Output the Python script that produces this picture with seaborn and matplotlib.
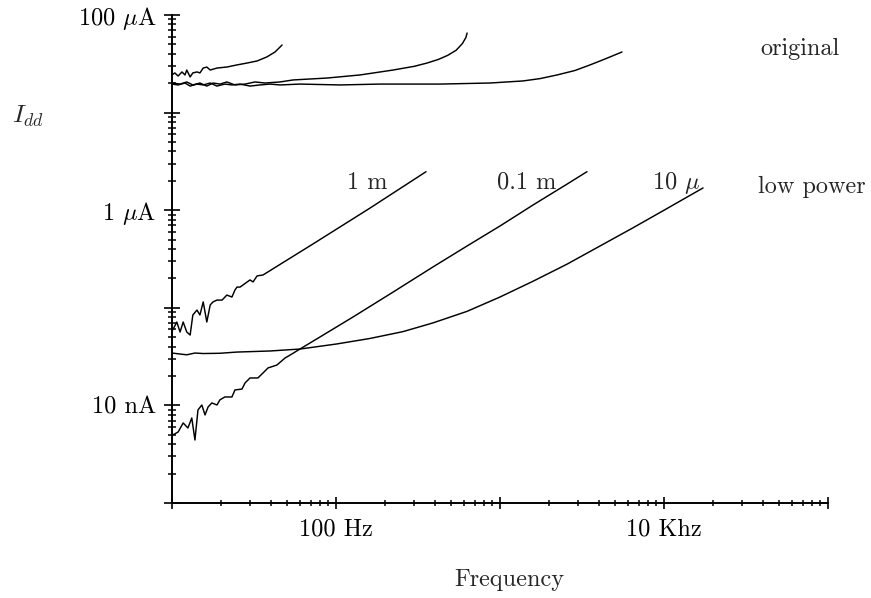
import numpy as np
import pandas as pd
import matplotlib
matplotlib.use("Agg")
import matplotlib.pyplot as plt
import matplotlib.ticker as mticker
import seaborn as sns

# ---------------- data ----------------
# "original" group (currents in A, frequencies in Hz)
orig_a_f = [10, 10.4, 10.9, 11.5, 12.0, 12.3, 12.9, 13.4, 14.2, 14.8, 15.5, 16.3, 17.1,
            18.8, 21.6, 24.9, 28.7, 33.0, 37.9, 42.5, 45.6, 46.9]
orig_a_i = [24.3e-6, 25.5e-6, 23.7e-6, 26.1e-6, 24.3e-6, 27.3e-6, 23.2e-6, 25.5e-6, 26.1e-6,
            25.5e-6, 28.6e-6, 29.3e-6, 27.3e-6, 28.6e-6, 29.3e-6, 30.8e-6, 32.2e-6, 33.8e-6,
            37.2e-6, 41.8e-6, 47.0e-6, 49.3e-6]

orig_b_f = [10, 11.2, 12.3, 13.4, 14.8, 16.3, 17.8, 19.6, 21.6, 24.2, 27.9, 32.1, 36.9, 45.6,
            54.7, 88.1, 140, 223, 300, 359, 420, 480, 540, 590, 620, 630]
orig_b_i = [20.1e-6, 19.6e-6, 20.6e-6, 19.2e-6, 20.1e-6, 18.7e-6, 20.1e-6, 19.6e-6, 20.6e-6,
            19.2e-6, 19.6e-6, 20.6e-6, 20.1e-6, 20.6e-6, 21.6e-6, 22.6e-6, 24.3e-6, 27.3e-6,
            29.8e-6, 32.2e-6, 35.0e-6, 38.6e-6, 43.5e-6, 51.0e-6, 59.0e-6, 65.4e-6]

orig_c_f = [10, 10.9, 12.0, 12.9, 14.2, 15.5, 17.1, 18.8, 21.0, 23.2, 26.0, 29.9, 34.4, 39.6,
            45.6, 60.3, 106, 185, 431, 869, 1380, 1754, 2228, 2864, 3540, 4365, 5546]
orig_c_i = [19.6e-6, 19.2e-6, 20.1e-6, 18.7e-6, 19.6e-6, 19.2e-6, 20.1e-6, 18.7e-6, 19.6e-6,
            19.2e-6, 19.6e-6, 18.7e-6, 19.2e-6, 19.6e-6, 19.2e-6, 19.6e-6, 19.2e-6, 19.6e-6,
            19.6e-6, 20.1e-6, 21.1e-6, 22.3e-6, 24.3e-6, 27.0e-6, 30.8e-6, 35.4e-6, 41.8e-6]

# "low power" group
lp_1m_f = [10, 10.1, 10.7, 11.2, 11.7, 12.3, 12.9, 13.4, 14.2, 14.8, 15.5, 16.3, 17.1, 17.8,
           18.8, 20.2, 21.6, 23.2, 24.2, 24.9, 26.0, 29.9, 31.2, 33.0, 35.9, 72.4, 161, 354]
lp_1m_i = [62.1e-9, 59.3e-9, 71.5e-9, 56.5e-9, 71.5e-9, 56.5e-9, 52.6e-9, 84.4e-9, 94.9e-9,
           84.4e-9, 115e-9, 71.5e-9, 107e-9, 115e-9, 120e-9, 120e-9, 135e-9, 129e-9, 152e-9,
           163e-9, 163e-9, 193e-9, 184e-9, 212e-9, 217e-9, 451e-9, 1.05e-6, 2.48e-6]

lp_01m_f = [10, 10.1, 10.9, 11.7, 12.5, 13.2, 13.8, 14.4, 15.2, 15.9, 16.6, 17.5, 18.8, 19.6,
            21.0, 23.2, 24.2, 26.7, 27.9, 29.9, 33.4, 35.9, 38.5, 43.6, 48.9, 52.5, 60.3, 79.8,
            127, 223, 390, 630, 1000, 1589, 2563, 3390]
lp_01m_i = [4.75e-9, 4.97e-9, 5.34e-9, 6.61e-9, 5.87e-9, 7.43e-9, 4.42e-9, 8.98e-9, 10.1e-9,
            7.98e-9, 9.64e-9, 10.6e-9, 10.1e-9, 11.4e-9, 12.2e-9, 12.2e-9, 14.4e-9, 14.7e-9,
            17.0e-9, 19.1e-9, 19.1e-9, 21.5e-9, 24.2e-9, 25.9e-9, 30.6e-9, 32.8e-9, 37.8e-9,
            50.2e-9, 80.5e-9, 145e-9, 262e-9, 430e-9, 689e-9, 1.13e-6, 1.85e-6, 2.48e-6]

lp_10u_f = [10, 11.2, 12.3, 13.8, 15.5, 19.6, 24.9, 39.6, 60.3, 101, 161, 256, 390, 630, 1000,
            1589, 2563, 4074, 6471, 10430, 17300]
lp_10u_i = [34.4e-9, 33.6e-9, 33.0e-9, 34.4e-9, 34.0e-9, 34.2e-9, 35.2e-9, 36.1e-9, 37.8e-9,
            42.6e-9, 48.5e-9, 57.0e-9, 70.0e-9, 92.0e-9, 129e-9, 187e-9, 280e-9, 430e-9,
            660e-9, 1.04e-6, 1.69e-6]

curves = {
    "orig_a": (orig_a_f, orig_a_i),
    "orig_b": (orig_b_f, orig_b_i),
    "orig_c": (orig_c_f, orig_c_i),
    "1 m": (lp_1m_f, lp_1m_i),
    "0.1 m": (lp_01m_f, lp_01m_i),
    "10 u": (lp_10u_f, lp_10u_i),
}

y_ticks = [1e-9, 1e-8, 1e-7, 1e-6, 1e-5, 1e-4]
y_labels = ["", "10 nA", "", r"1 $\mu$A", "", r"100 $\mu$A"]
x_ticks = [10, 100, 1000, 1e4, 1e5]
x_labels = ["", "100 Hz", "", "10 Khz", ""]

# ---------------- style ----------------
sns.set_style("ticks")
plt.rcParams["font.family"] = ["cmr10", "DejaVu Serif"]
plt.rcParams["mathtext.fontset"] = "cm"
plt.rcParams["axes.unicode_minus"] = False
plt.rcParams["axes.formatter.use_mathtext"] = True

FS = 17.5

fig = plt.figure(figsize=(8.71, 5.98), dpi=100)
ax = fig.add_axes([172 / 871, 1 - 503 / 598, 656 / 871, 488 / 598])

rows = []
for name, (f, i) in curves.items():
    rows += [{"curve": name, "freq": ff, "idd": ii} for ff, ii in zip(f, i)]
df = pd.DataFrame(rows)

for name in curves:
    sub = df[df["curve"] == name]
    sns.lineplot(data=sub, x="freq", y="idd", ax=ax, color="black", lw=1.05,
                 estimator=None, sort=False, legend=False)

ax.set_xscale("log")
ax.set_yscale("log")
ax.set_xlim(10, 1e5)
ax.set_ylim(1e-9, 1e-4)

ax.xaxis.set_major_locator(mticker.FixedLocator(x_ticks))
ax.xaxis.set_major_formatter(mticker.FixedFormatter(x_labels))
ax.xaxis.set_minor_locator(mticker.LogLocator(base=10, subs=np.arange(2, 10), numticks=20))
ax.xaxis.set_minor_formatter(mticker.NullFormatter())
ax.yaxis.set_major_locator(mticker.FixedLocator(y_ticks))
ax.yaxis.set_major_formatter(mticker.FixedFormatter(y_labels))
ax.yaxis.set_minor_locator(mticker.LogLocator(base=10, subs=np.arange(2, 10), numticks=20))
ax.yaxis.set_minor_formatter(mticker.NullFormatter())

for s in ["top", "right"]:
    ax.spines[s].set_visible(False)
for s in ["left", "bottom"]:
    ax.spines[s].set_linewidth(1.4)
    ax.spines[s].set_color("black")

ax.tick_params(axis="y", which="major", direction="inout", length=12, width=1.2,
               labelsize=FS, pad=5, colors="black")
ax.tick_params(axis="y", which="minor", direction="inout", length=6, width=1.1, colors="black")
ax.tick_params(axis="x", which="major", direction="inout", length=8, width=1.2,
               labelsize=FS, pad=7, colors="black")
ax.tick_params(axis="x", which="minor", direction="inout", length=4, width=1.1, colors="black")

ax.set_xlabel("")
ax.set_ylabel("")

fig.text(28 / 871, 1 - 116 / 598, r"$I_{dd}$", fontsize=FS + 1, ha="center", va="center")
fig.text(509 / 871, 1 - 580 / 598, "Frequency", fontsize=FS, ha="center", va="center")

ax.text(0.957, 0.930, "original", transform=ax.transAxes, fontsize=FS,
        ha="center", va="center", clip_on=False)
ax.text(0.976, 0.648, "low power", transform=ax.transAxes, fontsize=FS,
        ha="center", va="center", clip_on=False)
ax.text(0.297, 0.656, "1 m", transform=ax.transAxes, fontsize=FS, ha="center", va="center")
ax.text(0.541, 0.656, "0.1 m", transform=ax.transAxes, fontsize=FS, ha="center", va="center")
ax.text(0.768, 0.656, r"10 $\mu$", transform=ax.transAxes, fontsize=FS, ha="center", va="center")

fig.savefig("out.png", dpi=100)
